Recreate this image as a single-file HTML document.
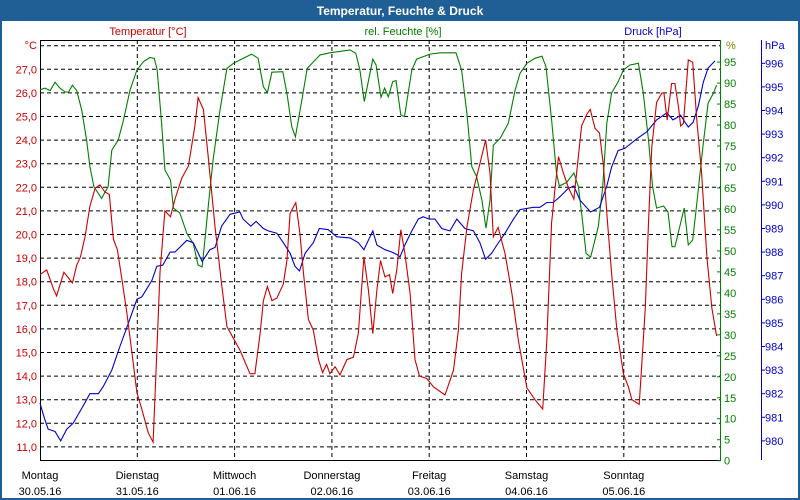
<!DOCTYPE html>
<html><head><meta charset="utf-8"><style>
body{margin:0;background:#fff}
#wrap{position:relative;width:796px;height:496px;border:2px solid #1f5f96;background:#fff;overflow:hidden}
#title{position:absolute;left:0;top:0;width:796px;height:19px;background:#1f5f96;color:#fff;font:bold 12px "Liberation Sans",sans-serif;text-align:center;line-height:19px}
svg text{font-family:"Liberation Sans",sans-serif;font-size:11px}
</style></head><body>
<div id="wrap">
<div id="title">Temperatur, Feuchte &amp; Druck</div>
<svg id="chart" width="800" height="500" style="position:absolute;left:-2px;top:-2px"></svg>
</div>
<script>
const dayLabels=["Montag","Dienstag","Mittwoch","Donnerstag","Freitag","Samstag","Sonntag"];
const dateLabels=["30.05.16","31.05.16","01.06.16","02.06.16","03.06.16","04.06.16","05.06.16"];
const tempTicks=[11,12,13,14,15,16,17,18,19,20,21,22,23,24,25,26,27];
const humTicks=[0,5,10,15,20,25,30,35,40,45,50,55,60,65,70,75,80,85,90,95];
const presTicks=[980,981,982,983,984,985,986,987,988,989,990,991,992,993,994,995,996];
const tempHours=[0,1.65,3.3,4.1,5.9,8,9.05,10,11.1,12.3,13.6,14.8,16,17.1,18.1,19.1,20.2,21.4,22.6,23.9,25.1,26.7,27.9,28.8,29.6,30.8,32.2,33.3,35,36.6,38.2,39,40.3,41.5,43.2,44.8,46.1,47.7,49.3,51.8,53,54.3,55.1,56.1,57.2,58.4,60,60.9,61.7,63.1,64.1,65,66.2,67.4,68.7,69.7,70.7,71.5,72.8,74,75.7,77.3,78.5,79.9,81,82.1,83.1,84,85.1,86.2,87,88,89,90,91.3,92.5,93.6,95.4,97,99.9,102,103.2,104,105.3,106.9,108.5,109.9,111,111.8,113,114.7,116.4,118,120.1,122.1,124,125,126.2,127,127.9,129.1,130.3,131.7,132,133.6,134.9,135.7,136.9,138,139,139.8,141,142.3,143.9,145.1,146,147.8,148.3,149.3,150.1,150.9,152.1,153.4,153.9,154.7,155.8,156.6,157.5,158,158.7,159.9,161,162,163.2,164.5,165.7,166.9];
const tempValues=[18.3,18.5,17.7,17.4,18.4,17.95,18.7,19.06,19.9,21.2,21.96,22.1,21.8,21.7,19.8,19.35,18.1,16.7,15.1,13.3,12.6,11.6,11.2,15,18.4,21,20.75,21.5,22.4,22.9,24.6,25.8,25.3,23.3,20.3,17.9,16.1,15.6,15.1,14.1,14.1,15.8,17.2,17.8,17.2,17.3,17.9,18.9,20.9,21.35,20.05,18.35,16.4,15.95,14.7,14.15,14.5,14.1,14.4,14.05,14.7,14.8,15.8,19.05,17.65,15.8,17.65,18.9,18.2,18.3,17.5,18.5,20.2,19.2,17.5,14.7,14,13.9,13.55,13.2,14.25,15.95,18.35,20.3,21.9,23,24,22.6,19.9,20.3,19.2,17.5,15.5,13.5,13,12.6,15.5,20.5,21.9,23.3,22.6,22,21.5,22,24.6,25.1,25.3,24.5,24.3,22.9,20.9,18.35,15.95,14.1,13.55,13,12.8,14.1,16.9,20.5,23.7,25.6,26,26,24.85,26.4,26.4,25.4,24.6,24.7,27.4,27.3,24.85,22.6,19.05,16.9,15.7];
const humHours=[0,1.2,2.5,3.7,4.9,6.2,7,8,9.05,10.3,11.5,12.3,13.3,15.2,16.8,17.7,19.3,20.6,22.2,23.9,25.5,27.1,28.2,28.9,30,30.8,32.2,32.9,34.5,36.2,37.8,39,40,41.5,42.7,44.4,46.1,47.7,49.3,52.2,53.8,55.1,56.1,57.2,59.9,60.9,62.1,63,64.6,65.9,69.1,71.5,76.5,77.9,78.9,80,82.1,82.9,84.1,85,85.9,87,87.8,89,89.9,91.7,92.9,96.2,98.7,102.6,104,105.3,106.5,107.7,109,110,111,111.8,113.5,115.5,117.2,118.4,120.1,122.1,123.8,124.8,126.2,127.4,128.1,129.9,131.7,132.8,133.6,134.7,135.8,137.7,138.8,139.8,141,142.6,143.9,145.5,147.6,148.8,150.1,151.1,152.1,153.8,154.9,155.9,156.6,158.9,159.9,161,162,163.5,164.8,166.1,166.9];
const humValues=[88.4,88.8,88.2,90.2,88.8,87.9,87.8,89.5,88.2,83.5,76.4,70.1,65.3,62.5,65.3,74,76.4,81.2,88.3,93.1,95.1,96.1,95.9,93.1,80.4,69.3,66.9,60.2,59,54.2,51.8,46.6,46.2,60.5,71.7,83.6,93.5,94.7,95.5,96.9,95.9,89.1,87.7,92.6,92.7,87.6,79.6,77.2,86,93.5,96.7,97.2,97.9,97.1,93.1,85.6,95.7,94.3,86.6,88.8,86.7,90.3,90.6,82.4,82,93.1,95.7,96.9,97.2,97.2,93.1,82.8,70.1,67.7,62.1,55.4,62.1,75.2,76.8,80.4,88.3,92.3,94.7,95.9,96.4,93.9,81.2,68.5,65.5,66.3,68.6,65.3,59,49.4,48.5,55.8,65.3,80.4,87.6,90.3,93.1,94.3,94.7,87.6,76.4,65.3,60.2,60.7,59.3,51,51,60.2,51.4,52.6,61.3,74.8,85.2,87.6,89.5];
const presHours=[0,1,2,3.7,5.1,6.6,8.2,10.7,12.3,14.4,15.6,17.7,19.7,21.4,23.9,25.1,27.6,28.8,30.3,32.1,33.3,36.2,37.8,40,41.9,43.2,44.8,46.9,49.3,50.1,52,53.3,55.1,56.3,58.4,60,61.7,62.9,64,65.4,67.4,68.9,71.1,73.2,76.5,78.5,79.9,82.1,83.1,85.1,86.8,88,88.8,90,91.7,93.3,94.5,96,97.4,99.1,101.1,102.8,104.8,106.9,108.5,109.9,111.4,112.7,114.7,116.8,118.4,121.7,123.3,125,126.6,128.3,130.3,131.7,133.2,135.8,138,139.8,141,142.6,144.3,147.2,149.7,152.1,154.6,156.1,157.1,158,159.1,159.9,161.1,162.4,163.6,164.8,166.5];
const presValues=[981.6,981,980.5,980.4,980,980.5,980.75,981.5,982,982,982.3,983,984,984.8,986,986.1,986.8,987.4,987.45,988,988,988.5,988.4,987.6,988.1,988.2,989.1,989.6,989.7,989.4,989.1,989.3,989,988.9,988.8,988.4,987.95,987.4,987.2,987.95,988.4,989,988.95,988.65,988.6,988.4,988.1,988.9,988.3,988.1,988,987.9,987.8,988.3,988.9,989.4,989.5,989.4,989.4,989,988.9,989.4,989,988.9,988.4,987.7,987.95,988.3,988.8,989.4,989.8,989.9,989.9,990.1,990.1,990.35,990.7,990.8,990.2,989.7,989.9,990.8,991.6,992.3,992.4,992.8,993.1,993.6,993.9,993.6,993.7,993.8,993.5,993.3,993.5,994.2,995.2,995.8,996.1];

const svg=document.getElementById('chart');
const NS='http://www.w3.org/2000/svg';
const X0=40,X1=720,PX_PER_H=97.3/24;
const xs=h=>X0+h*PX_PER_H;
const yT=t=>69.3+(27-t)*23.6;
const yH=v=>460.7-v*4.196;
const yP=p=>63.3+(996-p)*23.6;
function mk(tag,attrs,parent){const e=document.createElementNS(NS,tag);for(const k in attrs)e.setAttribute(k,attrs[k]);(parent||svg).appendChild(e);return e;}

const grid=mk('g',{});


for(let t=11;t<=28;t++){const l=mk('line',{x1:X0,x2:X1,y1:yT(t),y2:yT(t),stroke:'#000','stroke-dasharray':'4,3','stroke-width':1},grid);

}
for(let d=1;d<7;d++){const l=mk('line',{x1:xs(d*24),x2:xs(d*24),y1:40,y2:460,stroke:'#000','stroke-dasharray':'4,3'},grid);

}

// axes
const ax=mk('g',{});


mk('line',{x1:X0,x2:X1,y1:40.5,y2:40.5,stroke:'#000'},ax);
mk('line',{x1:40.5,x2:40.5,y1:40,y2:461,stroke:'#000'},ax);
mk('line',{x1:X0,x2:X1,y1:460.5,y2:460.5,stroke:'#000'},ax);
mk('line',{x1:720.5,x2:720.5,y1:40,y2:461,stroke:'#008000'},ax);
mk('line',{x1:761.5,x2:761.5,y1:40,y2:460,stroke:'#0000cc'},ax);

const tl=mk('g',{fill:'#cc0000','text-anchor':'end'});


tempTicks.forEach(t=>{const e=mk('text',{x:37,y:yT(t)+4},tl);e.textContent=t.toFixed(1).replace('.',',');});
const cu=mk('text',{x:37,y:49,fill:'#cc0000','text-anchor':'end'});cu.textContent='°C';



const hl=mk('g',{fill:'#008000'});


humTicks.forEach(v=>{mk('line',{x1:717,x2:721,y1:yH(v),y2:yH(v),stroke:'#008000'},hl);const e=mk('text',{x:724,y:yH(v)+4},hl);e.textContent=v;});
const hu=mk('text',{x:726,y:49,fill:'#808000'});hu.textContent='%';



const pl=mk('g',{fill:'#0000cc'});


presTicks.forEach(p=>{mk('line',{x1:761,x2:765,y1:yP(p),y2:yP(p),stroke:'#0000cc'},pl);const e=mk('text',{x:765,y:yP(p)+4},pl);e.textContent=p;});
const pu=mk('text',{x:765,y:49,fill:'#0000cc'});pu.textContent='hPa';



const heads=[['Temperatur [°C]',148,'#cc0000','temperature-legend'],['rel. Feuchte [%]',403,'#008000','humidity-legend'],['Druck [hPa]',653,'#0000cc','pressure-legend']];
heads.forEach(h=>{const e=mk('text',{x:h[1],y:35,fill:h[2],'text-anchor':'middle'});e.textContent=h[0];

});

const xl=mk('g',{fill:'#000','text-anchor':'middle'});


dayLabels.forEach((d,i)=>{const a=mk('text',{x:xs(i*24),y:479},xl);a.textContent=d;const b=mk('text',{x:xs(i*24),y:495},xl);b.textContent=dateLabels[i];});

function series(hours,vals,yf,color,name){
  const pts=hours.map((h,i)=>xs(h).toFixed(1)+','+yf(vals[i]).toFixed(1)).join(' ');
  const p=mk('polyline',{points:pts,fill:'none',stroke:color,'stroke-width':1.1});
  
  
}
series(humHours,humValues,yH,'#008000','humidity-line');
series(presHours,presValues,yP,'#0000cc','pressure-line');
series(tempHours,tempValues,yT,'#cc0000','temperature-line');
</script>
</body></html>
